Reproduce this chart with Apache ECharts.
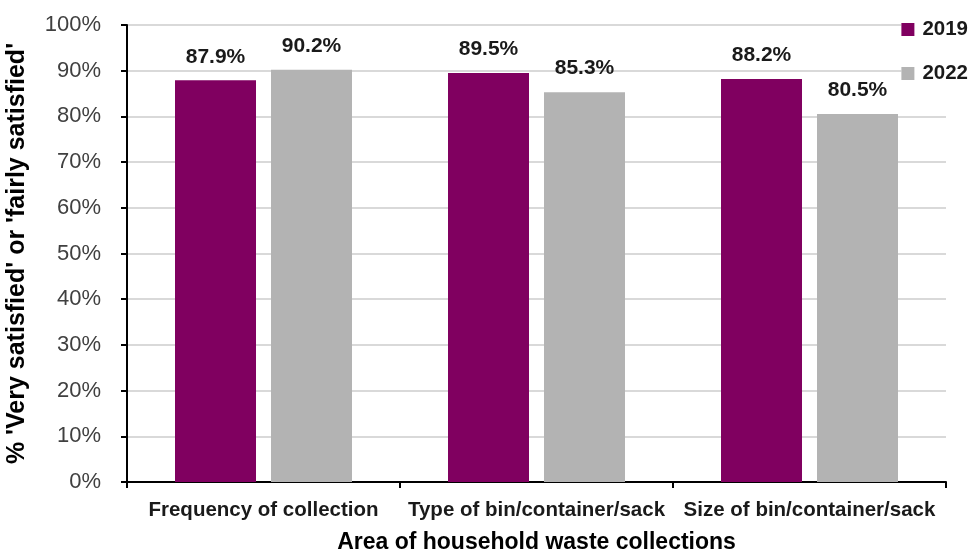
<!DOCTYPE html>
<html>
<head>
<meta charset="utf-8">
<script src="https://cdn.jsdelivr.net/npm/echarts@6/dist/echarts.min.js"></script>
<style>
  html, body { margin: 0; padding: 0; background: #ffffff; }
  #chart { width: 971px; height: 551px; }
</style>
</head>
<body>
<div id="chart"></div>
<script>
// Satisfaction with household waste collections, 2019 vs 2022
const categories = ['Frequency of collection', 'Type of bin/container/sack', 'Size of bin/container/sack'];
const values2019 = [87.9, 89.5, 88.2];
const values2022 = [90.2, 85.3, 80.5];
const yTicks = [0, 10, 20, 30, 40, 50, 60, 70, 80, 90, 100];

const FONT = "'Liberation Sans', 'DejaVu Sans', sans-serif";

const chart = echarts.init(document.getElementById('chart'), null, { renderer: 'canvas' });

const labelStyle = {
  show: true,
  position: 'top',
  distance: 13,
  formatter: p => p.value.toFixed(1) + '%',
  fontFamily: FONT,
  fontWeight: 'bold',
  fontSize: 21,
  color: '#1a1a1a'
};

chart.setOption({
  animation: false,
  backgroundColor: '#ffffff',
  grid: { left: 127, right: 25, top: 25, bottom: 69, containLabel: false, outerBoundsMode: 'none' },
  legend: {
    orient: 'vertical',
    right: 3,
    top: 19,
    itemWidth: 13,
    itemHeight: 13,
    itemGap: 23,
    padding: 0,
    backgroundColor: '#ffffff',
    icon: 'rect',
    textStyle: { fontFamily: FONT, fontWeight: 'bold', fontSize: 20.5, color: '#1a1a1a', padding: [0, 0, 0, 3] },
    data: ['2019', '2022']
  },
  xAxis: {
    type: 'category',
    data: categories,
    name: 'Area of household waste collections',
    nameLocation: 'middle',
    nameGap: 49,
    nameTextStyle: { fontFamily: FONT, fontWeight: 'bold', fontSize: 23, color: '#000000' },
    axisLine: { lineStyle: { color: '#000000', width: 2 } },
    axisTick: { show: true, alignWithLabel: false, length: 6, lineStyle: { color: '#000000', width: 2 } },
    axisLabel: {
      interval: 0,
      margin: 18,
      fontFamily: FONT,
      fontWeight: 'bold',
      fontSize: 20.5,
      color: '#1a1a1a'
    }
  },
  yAxis: {
    type: 'value',
    min: 0,
    max: 100,
    interval: 10,
    name: "% 'Very satisfied' or 'fairly satisfied'",
    nameLocation: 'middle',
    nameGap: 97,
    nameRotate: 90,
    nameTextStyle: { fontFamily: FONT, fontWeight: 'bold', fontSize: 25, color: '#000000' },
    axisLine: { show: true, lineStyle: { color: '#000000', width: 2 } },
    axisTick: { show: true, length: 6, lineStyle: { color: '#000000', width: 2 } },
    splitLine: { show: true, lineStyle: { color: '#d9d9d9', width: 2 } },
    axisLabel: {
      margin: 26,
      fontFamily: FONT,
      fontSize: 22,
      color: '#404040',
      formatter: v => yTicks.includes(v) ? v + '%' : ''
    }
  },
  series: [
    {
      name: '2019',
      type: 'bar',
      data: values2019,
      itemStyle: { color: '#800060' },
      barWidth: 81,
      barGap: '18.5%',
      label: labelStyle
    },
    {
      name: '2022',
      type: 'bar',
      data: values2022,
      itemStyle: { color: '#b3b3b3' },
      barWidth: 81,
      label: labelStyle
    }
  ]
});
</script>
</body>
</html>
